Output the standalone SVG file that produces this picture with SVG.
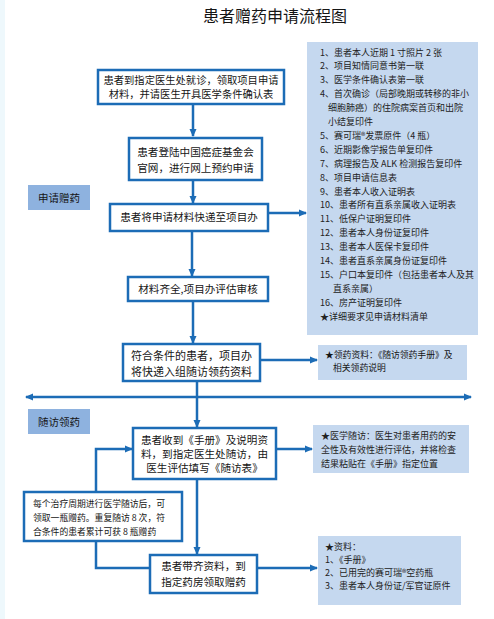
<svg xmlns="http://www.w3.org/2000/svg" width="494" height="619" viewBox="0 0 494 619">
<defs>
<marker id="ah" markerWidth="8" markerHeight="8" refX="7" refY="4" orient="auto" markerUnits="userSpaceOnUse">
<path d="M0,0.5 L8,4 L0,7.5 Z" fill="#1c6cb6"/>
</marker>
<marker id="ahs" markerWidth="8" markerHeight="8" refX="1" refY="4" orient="auto" markerUnits="userSpaceOnUse">
<path d="M8,0.5 L0,4 L8,7.5 Z" fill="#1c6cb6"/>
</marker>
<style>
.box{fill:#ffffff;stroke:#1c6cb6;stroke-width:2.5}
.info{fill:#c5d8ef}
.lab{fill:#8eb2df}
.t{font-family:"Noto Sans CJK SC","Noto Sans",sans-serif;fill:#151515;font-size:11px}
.tc{text-anchor:middle}
.s{font-size:9px;fill:#222}
.sm{font-size:8.8px}
.ln{fill:none;stroke:#1c6cb6;stroke-width:2.5}
</style>
</defs>
<rect x="0" y="0" width="494" height="619" fill="#ffffff"/>
<rect x="0" y="0" width="5" height="619" fill="#eef8fc"/>
<text class="t tc" x="275" y="22" style="font-size:16px">患者赠药申请流程图</text>

<g id="list-materials">
<rect class="info" x="307" y="42" width="171" height="293"/>
<text class="t s" x="320" y="55.5">1、患者本人近期 1 寸照片 2 张</text>
<text class="t s" x="320" y="69.4">2、项目知情同意书第一联</text>
<text class="t s" x="320" y="83.3">3、医学条件确认表第一联</text>
<text class="t s" x="320" y="97.2">4、首次确诊（局部晚期或转移的非小</text>
<text class="t s" x="328" y="111.1">细胞肺癌）的住院病案首页和出院</text>
<text class="t s" x="328" y="125">小结复印件</text>
<text class="t s" x="320" y="138.9">5、赛可瑞®发票原件（4 瓶）</text>
<text class="t s" x="320" y="152.8">6、近期影像学报告单复印件</text>
<text class="t s" x="320" y="166.7">7、病理报告及 ALK 检测报告复印件</text>
<text class="t s" x="320" y="180.6">8、项目申请信息表</text>
<text class="t s" x="320" y="194.5">9、患者本人收入证明表</text>
<text class="t s" x="320" y="208.4">10、患者所有直系亲属收入证明表</text>
<text class="t s" x="320" y="222.3">11、低保户证明复印件</text>
<text class="t s" x="320" y="236.2">12、患者本人身份证复印件</text>
<text class="t s" x="320" y="250.1">13、患者本人医保卡复印件</text>
<text class="t s" x="320" y="264">14、患者直系亲属身份证复印件</text>
<text class="t s" x="320" y="277.9">15、户口本复印件（包括患者本人及其</text>
<text class="t s" x="333" y="291.8">直系亲属）</text>
<text class="t s" x="320" y="305.7">16、房产证明复印件</text>
<text class="t s" x="320" y="319.6">★详细要求见申请材料清单</text>
</g>

<g id="label-apply">
<rect class="lab" x="28" y="185" width="62" height="25"/>
<text class="t tc" x="59" y="201.5" style="font-size:10.5px">申请赠药</text>
</g>
<g id="label-follow">
<rect class="lab" x="28" y="409" width="62" height="25"/>
<text class="t tc" x="59" y="425.5" style="font-size:10.5px">随访领药</text>
</g>

<g id="connectors">
<line class="ln" x1="193" y1="104" x2="193" y2="136" marker-end="url(#ah)"/>
<line class="ln" x1="193" y1="180" x2="193" y2="203" marker-end="url(#ah)"/>
<line class="ln" x1="268" y1="213" x2="306" y2="213" marker-end="url(#ah)"/>
<line class="ln" x1="192" y1="231" x2="192" y2="276" marker-end="url(#ah)"/>
<line class="ln" x1="193" y1="301" x2="193" y2="343" marker-end="url(#ah)"/>
<line class="ln" x1="260" y1="360" x2="317" y2="360" marker-end="url(#ah)"/>
<line class="ln" x1="26" y1="397" x2="471" y2="397" marker-start="url(#ahs)" marker-end="url(#ah)"/>
<line class="ln" x1="197" y1="381" x2="197" y2="427" marker-end="url(#ah)"/>
<line class="ln" x1="276" y1="449" x2="312" y2="449" marker-end="url(#ah)"/>
<polyline class="ln" points="96,492 96,449 132,449" marker-end="url(#ah)"/>
<line class="ln" x1="197" y1="479" x2="197" y2="554" marker-end="url(#ah)"/>
<polyline class="ln" points="96,541 96,568 150,568"/>
<line class="ln" x1="257" y1="568" x2="317" y2="568" marker-end="url(#ah)"/>
</g>

<g id="node-visit">
<rect class="box" x="98" y="70" width="186" height="34"/>
<text class="t tc" x="191" y="84" style="font-size:10.3px">患者到指定医生处就诊，领取项目申请</text>
<text class="t tc" x="191" y="98" style="font-size:10.3px">材料，并请医生开具医学条件确认表</text>
</g>
<g id="node-register">
<rect class="box" x="129" y="138" width="133" height="42"/>
<text class="t tc" x="195.5" y="156" style="font-size:10.6px">患者登陆中国癌症基金会</text>
<text class="t tc" x="195.5" y="171.5" style="font-size:10.6px">官网，进行网上预约申请</text>
</g>
<g id="node-mail">
<rect class="box" x="110" y="204" width="158" height="27"/>
<text class="t tc" x="189" y="221" style="font-size:10.6px">患者将申请材料快递至项目办</text>
</g>
<g id="node-review">
<rect class="box" x="128" y="277" width="140" height="24"/>
<text class="t tc" x="198" y="293" style="font-size:10.6px">材料齐全,项目办评估审核</text>
</g>
<g id="node-qualified">
<rect class="box" x="123" y="344" width="137" height="37"/>
<text class="t tc" x="191.5" y="359.5">符合条件的患者，项目办</text>
<text class="t tc" x="191.5" y="375.5">将快递入组随访领药资料</text>
</g>
<g id="info-drug-docs">
<rect class="info" x="318" y="345" width="149" height="35"/>
<text class="t sm" x="325" y="358">★领药资料：《随访领药手册》及</text>
<text class="t sm" x="333" y="371">相关领药说明</text>
</g>
<g id="node-followup">
<rect class="box" x="133" y="428" width="143" height="51"/>
<text class="t tc" x="204.5" y="444" style="font-size:10.6px">患者收到《手册》及说明资</text>
<text class="t tc" x="204.5" y="458" style="font-size:10.6px">料，到指定医生处随访，由</text>
<text class="t tc" x="204.5" y="472" style="font-size:10.6px">医生评估填写《随访表》</text>
</g>
<g id="info-medical">
<rect class="info" x="313" y="425" width="156" height="48"/>
<text class="t s" x="321" y="438.5">★医学随访：医生对患者用药的安</text>
<text class="t s" x="321" y="452.5">全性及有效性进行评估，并将检查</text>
<text class="t s" x="321" y="466.5">结果粘贴在《手册》指定位置</text>
</g>
<g id="node-cycle">
<rect class="box" x="24" y="492" width="158" height="49"/>
<text class="t sm" x="33" y="507">每个治疗周期进行医学随访后，可</text>
<text class="t sm" x="33" y="521">领取一瓶赠药。重复随访 8 次，符</text>
<text class="t sm" x="33" y="535">合条件的患者累计可获 8 瓶赠药</text>
</g>
<g id="node-pharmacy">
<rect class="box" x="150" y="555" width="107" height="38"/>
<text class="t tc" x="203.5" y="570" style="font-size:10.6px">患者带齐资料，到</text>
<text class="t tc" x="203.5" y="585.5" style="font-size:10.6px">指定药房领取赠药</text>
</g>
<g id="info-materials">
<rect class="info" x="318" y="536" width="143" height="69"/>
<text class="t s" x="325" y="550">★资料：</text>
<text class="t s" x="325" y="563">1、《手册》</text>
<text class="t s" x="325" y="576">2、已用完的赛可瑞®空药瓶</text>
<text class="t s" x="325" y="589">3、患者本人身份证/军官证原件</text>
</g>
</svg>
